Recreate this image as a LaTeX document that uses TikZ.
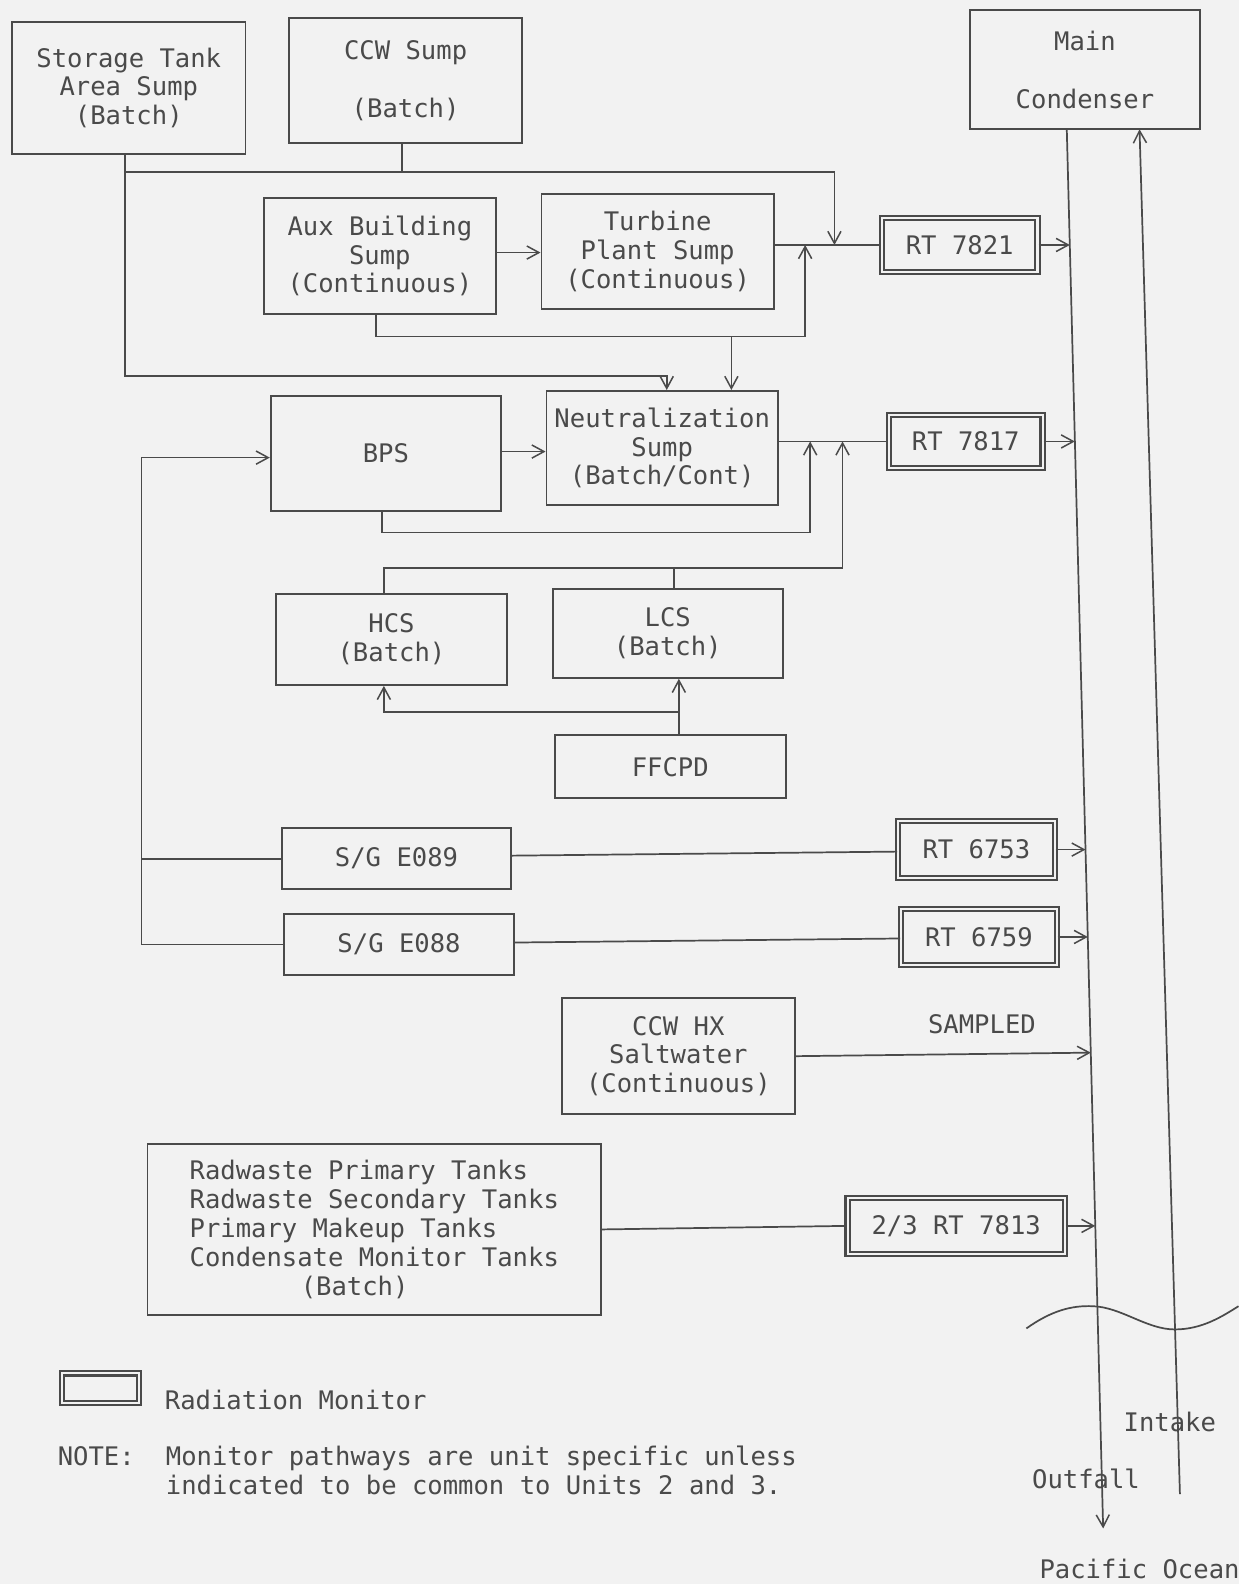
\documentclass[tikz,border=0pt]{standalone}
\usepackage{fontspec}
\setmonofont{DejaVu Sans Mono}
\usetikzlibrary{arrows.meta,calc}
\definecolor{ink}{HTML}{4A4A4A}
\definecolor{paper}{HTML}{F2F2F2}
\begin{document}
\begin{tikzpicture}[x=1pt,y=-1pt,
  every node/.style={text=ink, font=\ttfamily\fontsize{25.3}{28.5}\selectfont},
  box/.style={draw=ink, line width=1.9pt, align=center, inner sep=0pt},
  monitor/.style={draw=ink, align=center, inner sep=0pt, line width=2.1pt, double=paper, double distance=2pt},
  ln/.style={draw=ink, line width=1.7pt},
  arr/.style={ln, -{Straight Barb[length=12pt,width=13pt,line width=1.5pt]}},
  lbl/.style={inner sep=0pt}
]
\fill[paper] (0,0) rectangle (1226,1568);
\useasboundingbox (0,0) rectangle (1226,1568);

% ---- boxes ----
\node[box, minimum width=231pt, minimum height=130pt] (stor) at (127.5,87) {Storage Tank\\Area Sump\\(Batch)};
\node[box, minimum width=231pt, minimum height=124pt] (ccw) at (401.5,80) {CCW Sump\\[28.5pt](Batch)};
\node[box, minimum width=228pt, minimum height=118pt] (mc) at (1074,69) {Main\\[28.5pt]Condenser};
\node[box, minimum width=230pt, minimum height=115pt] (aux) at (376,253.5) {Aux Building\\Sump\\(Continuous)};
\node[box, minimum width=230pt, minimum height=114pt] (turb) at (651,249) {Turbine\\Plant Sump\\(Continuous)};
\node[monitor, minimum width=154pt, minimum height=53pt] (rt21) at (950,242.5) {RT 7821};
\node[box, minimum width=229pt, minimum height=113pt] (neut) at (655.5,443.5) {Neutralization\\Sump\\(Batch/Cont)};
\node[box, minimum width=228pt, minimum height=114pt] (bps) at (382,449) {BPS};
\node[monitor, minimum width=152pt, minimum height=52pt] (rt17) at (956,437) {RT 7817};
\node[box, minimum width=229pt, minimum height=90pt] (hcs) at (387.5,633) {HCS\\(Batch)};
\node[box, minimum width=228pt, minimum height=88pt] (lcs) at (661,627) {LCS\\(Batch)};
\node[box, minimum width=229pt, minimum height=62pt] (ffcpd) at (663.5,759) {FFCPD};
\node[box, minimum width=227pt, minimum height=60pt] (sg89) at (392.5,850) {S/G E089};
\node[box, minimum width=228pt, minimum height=60pt] (sg88) at (395,935) {S/G E088};
\node[monitor, minimum width=155pt, minimum height=56pt] (rt53) at (966.5,841) {RT 6753};
\node[monitor, minimum width=154pt, minimum height=55pt] (rt59) at (969,927.5) {RT 6759};
\node[box, minimum width=231pt, minimum height=115pt] (hx) at (671.5,1045.5) {CCW HX\\Saltwater\\(Continuous)};
\node[box, minimum width=449pt, minimum height=170pt, align=left] (rad) at (370.5,1217) {Radwaste Primary Tanks\\Radwaste Secondary Tanks\\Primary Makeup Tanks\\Condensate Monitor Tanks\\\hspace*{110pt}(Batch)};
\node[monitor, minimum width=215pt, minimum height=55pt] (rt13) at (946.5,1213.5) {2/3 RT 7813};

% ---- labels ----
\node[lbl] (samp) at (972,1014) {SAMPLED};
\node[monitor, minimum width=76pt, minimum height=29pt] (leg) at (99.5,1374) {};
\node[lbl, anchor=west] (legt) at (163,1386) {Radiation Monitor};
\node[lbl, anchor=west] (note) at (57,1441) {NOTE:};
\node[lbl, anchor=west, align=left] (notet) at (164,1455.5) {Monitor pathways are unit specific unless\\indicated to be common to Units 2 and 3.};
\node[lbl] (intake) at (1158,1408) {Intake};
\node[lbl] (outf) at (1075,1464) {Outfall};
\node[lbl] (pac) at (1128,1553) {Pacific Ocean};

% ---- junction coordinates ----
\coordinate (j1) at (124,170);
\coordinate (j2) at (124,372);
\coordinate (j3) at (826,170);
\coordinate (j4) at (398,170);
\coordinate (j5) at (797,333);
\coordinate (j6) at (372,333);
\coordinate (j7) at (724,333);
\coordinate (j8) at (378,527);
\coordinate (j9) at (802,527);
\coordinate (j10) at (380,562);
\coordinate (j11) at (834,562);
\coordinate (j12) at (672,705);
\coordinate (j13) at (667,562);
\coordinate (jL1) at (140,453);
% outfall / intake lines
\coordinate (otop) at (1056,128);
\coordinate (obot) at (1092,1513);
\coordinate (itop) at (1128,128);
\coordinate (ibot) at (1168,1479);
\coordinate (o1) at (1059,242.5);
\coordinate (o2) at (1064,437);
\coordinate (o3) at (1074.5,841);
\coordinate (o4) at (1076.8,927.5);
\coordinate (o5) at (1079.8,1042);
\coordinate (o6) at (1084.2,1213.5);

% ---- connectors: top ----
\draw[arr] (stor.south -| j1) -- (j2) -| (neut.north -| 660,0);
\draw[arr] (j1) -- (j3) -- (j3 |- rt21.west);
\draw[ln] (ccw.south -| j4) -- (j4);
\draw[arr] (aux.east |- 0,250) -- (turb.west |- 0,250);
\draw[ln] (turb.east |- rt21.west) -- (rt21.west);
\draw[arr] (aux.south -| j6) -- (j6) -- (j5) -- (j5 |- rt21.west);
\draw[arr] (j7) -- (j7 |- neut.north);
\draw[arr] (rt21.east) -- (o1);

% ---- connectors: middle ----
\draw[arr] (bps.east |- 0,447) -- (neut.west |- 0,447);
\draw[ln] (neut.east |- rt17.west) -- (rt17.west);
\draw[arr] (bps.south -| j8) -- (j8) -- (j9) -- (j9 |- rt17.west);
\draw[arr] (hcs.north -| j10) -- (j10) -- (j11) -- (j11 |- rt17.west);
\draw[ln] (lcs.north -| j13) -- (j13);
\draw[arr] (ffcpd.north -| j12) -- (j12 |- lcs.south);
\draw[arr] (j12) -| (hcs.south -| j10);
\draw[arr] (rt17.east) -- (o2);

% ---- connectors: steam generators ----
\draw[ln] (sg89.west) -- (sg89.west -| jL1);
\draw[arr] (sg88.west) -| (jL1) -- (bps.west |- jL1);
\draw[ln] (sg89.east |- 0,847) -- (rt53.west |- 0,843);
\draw[ln] (sg88.east |- 0,933) -- (rt59.west |- 0,929);
\draw[arr] (rt53.east) -- (o3);
\draw[arr] (rt59.east) -- (o4);

% ---- lower ----
\draw[arr] (hx.east) -- (o5);
\draw[ln] (rad.east) -- (rt13.west);
\draw[arr] (rt13.east) -- (o6);

% ---- outfall and intake ----
\draw[arr] (otop) -- (obot);
\draw[arr] (ibot) -- (itop);
\draw[ln] (1016,1315) .. controls (1040,1298) and (1060,1292) .. (1082,1293)
  .. controls (1110,1294) and (1135,1316) .. (1163,1316)
  .. controls (1190,1316) and (1210,1303) .. (1226,1293);
\end{tikzpicture}
\end{document}
